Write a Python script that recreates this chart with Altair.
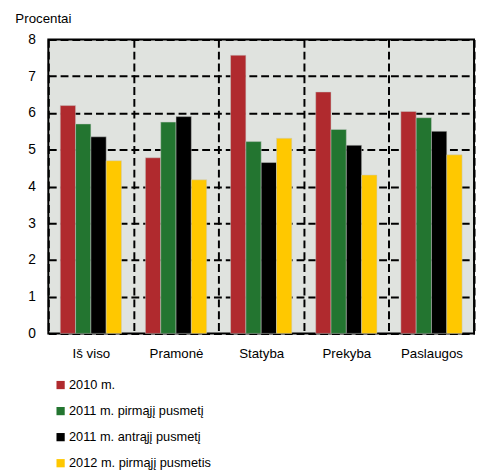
import altair as alt
import pandas as pd

categories = ["Iš viso", "Pramonė", "Statyba", "Prekyba", "Paslaugos"]
series = ["2010 m.", "2011 m. pirmąjį pusmetį", "2011 m. antrąjį pusmetį", "2012 m. pirmąjį pusmetis"]
v2010 = [6.2, 4.78, 7.57, 6.57, 6.04]
v2011a = [5.7, 5.75, 5.22, 5.55, 5.87]
v2011b = [5.35, 5.9, 4.65, 5.12, 5.5]
v2012 = [4.7, 4.18, 5.31, 4.31, 4.86]
colors = ["#b02a2e", "#237530", "#000000", "#ffc800"]

rows = []
for s, vals in zip(series, [v2010, v2011a, v2011b, v2012]):
    for c, v in zip(categories, vals):
        rows.append({"cat": c, "ser": s, "val": v})
df = pd.DataFrame(rows)

font = "Liberation Sans"

chart = alt.Chart(df).mark_bar(stroke="#c8ccc8", strokeWidth=0.5).encode(
    x=alt.X("cat:N", sort=categories,
            scale=alt.Scale(paddingInner=0, paddingOuter=0),
            axis=alt.Axis(title=None, tickBand="extent", grid=True, gridDash=[8, 4],
                          gridColor="black", gridWidth=2, gridOpacity=1,
                          ticks=False, domain=False, labelAngle=0,
                          labelPadding=14, labelFontSize=13.5, labelColor="black",
                          labelFont=font)),
    xOffset=alt.XOffset("ser:N", sort=series,
                        scale=alt.Scale(paddingInner=0, paddingOuter=0.78)),
    y=alt.Y("val:Q", scale=alt.Scale(domain=[0, 8], nice=False),
            axis=alt.Axis(values=list(range(9)), grid=True, gridDash=[8, 4],
                          gridColor="black", gridWidth=2, gridOpacity=1,
                          ticks=False, domain=False, labelPadding=13,
                          labelFontSize=14, labelColor="black", labelFont=font,
                          title="Procentai", titleAngle=0, titleAlign="left",
                          titleBaseline="middle", titleX=-34, titleY=-21,
                          titleFontSize=13.5, titleFontWeight="normal",
                          titleFont=font, titleColor="black")),
    color=alt.Color("ser:N", sort=series,
                    scale=alt.Scale(domain=series, range=colors),
                    legend=alt.Legend(title=None, orient="none", legendX=6, legendY=345,
                                      direction="vertical", symbolType="square",
                                      symbolSize=70, symbolStrokeWidth=0,
                                      labelFontSize=13, labelFont=font, labelColor="black",
                                      rowPadding=12.5, labelOffset=2)),
).properties(
    width=433, height=299,
    autosize=alt.AutoSizeParams(type="none"),
    padding={"left": 41, "top": 28, "right": 3, "bottom": 138},
).configure_view(
    stroke="black", strokeWidth=2, fill="#e0e3df"
)

chart.save("out.html", embed_options={"renderer": "svg", "actions": False})
